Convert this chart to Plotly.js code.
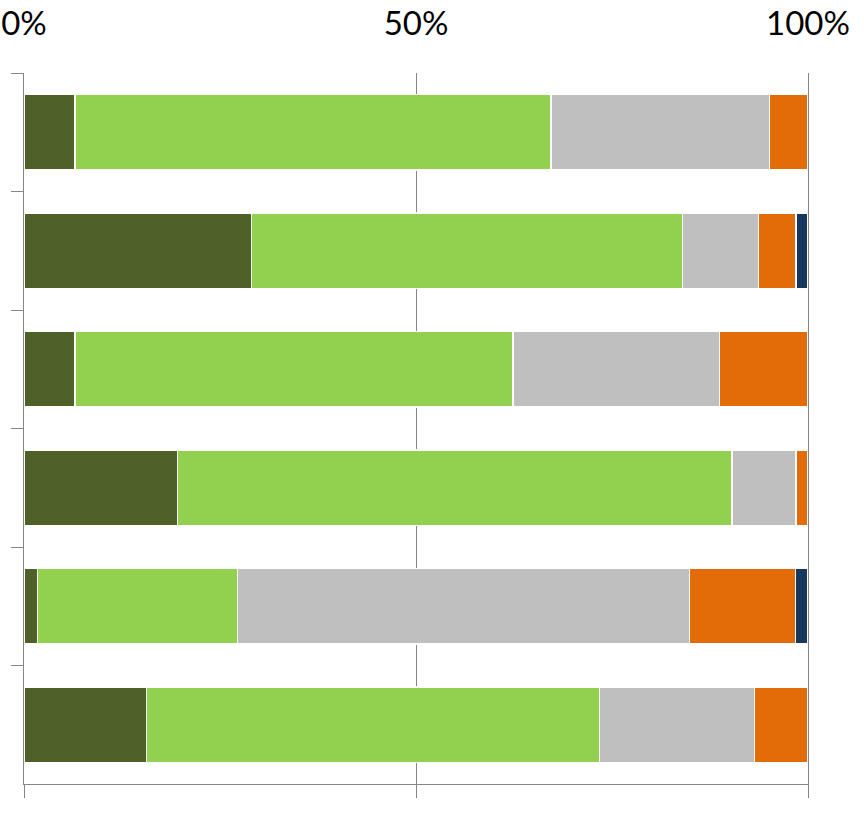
<!DOCTYPE html>
<html>
<head>
<meta charset="utf-8">
<script src="https://cdn.plot.ly/plotly-3.0.1.min.js"></script>
<style>html,body{margin:0;padding:0;background:#fff;}#chart{width:864px;height:831px;}</style>
</head>
<body>
<div id="chart"></div>
<script>
const categories = ["1", "2", "3", "4", "5", "6"];
const seriesA = [6.5, 29.0, 6.5, 19.6, 1.7, 15.6];
const seriesB = [60.7, 55.0, 55.9, 70.7, 25.5, 57.8];
const seriesC = [27.9, 9.7, 26.3, 8.2, 57.7, 19.8];
const seriesD = [4.9, 4.8, 11.3, 1.5, 13.5, 6.8];
const seriesE = [0, 1.5, 0, 0, 1.6, 0];
const tickVals = [0, 50, 100];
const tickText = ["0%", "50%", "100%"];

const colors = ["#4F6129", "#92D050", "#BFBFBF", "#E36C09", "#17375E"];
const seriesList = [seriesA, seriesB, seriesC, seriesD, seriesE];
const names = ["A", "B", "C", "D", "E"];

const traces = seriesList.map((s, i) => ({
  type: "bar",
  orientation: "h",
  y: categories,
  x: s,
  name: names[i],
  marker: { color: colors[i], line: { color: "#FFFFFF", width: 1.5 } },
  hoverinfo: "x"
}));
// invisible trace to carry the top labelling axis
traces.push({ type: "scatter", x: [0, 100], y: [categories[0], categories[0]], xaxis: "x2", mode: "markers", marker: { opacity: 0 }, hoverinfo: "skip", showlegend: false });

const layout = {
  width: 864,
  height: 831,
  margin: { l: 24, r: 56, t: 73, b: 47 },
  paper_bgcolor: "#FFFFFF",
  plot_bgcolor: "#FFFFFF",
  barmode: "stack",
  bargap: 0.365,
  showlegend: false,
  xaxis: {
    range: [0, 100],
    tickvals: tickVals,
    showticklabels: false,
    ticks: "outside",
    ticklen: 13,
    tickcolor: "#868686",
    showgrid: true,
    gridcolor: "#868686",
    gridwidth: 1,
    showline: true,
    linecolor: "#868686",
    linewidth: 1,
    zeroline: false,
    fixedrange: true
  },
  xaxis2: {
    overlaying: "x",
    side: "top",
    range: [0, 100],
    tickvals: tickVals,
    ticktext: tickText,
    ticks: "",
    showgrid: false,
    showline: false,
    zeroline: false,
    ticklabelstandoff: 30,
    tickfont: { family: "Lato, 'Open Sans', sans-serif", size: 33, color: "#000000" }
  },
  yaxis: {
    type: "category",
    autorange: "reversed",
    showticklabels: false,
    ticks: "outside",
    tickson: "boundaries",
    ticklen: 12,
    tickcolor: "#868686",
    showgrid: false,
    showline: true,
    mirror: true,
    linecolor: "#868686",
    linewidth: 1,
    zeroline: false
  }
};

Plotly.newPlot("chart", traces, layout, { displayModeBar: false, staticPlot: true });
</script>
</body>
</html>
